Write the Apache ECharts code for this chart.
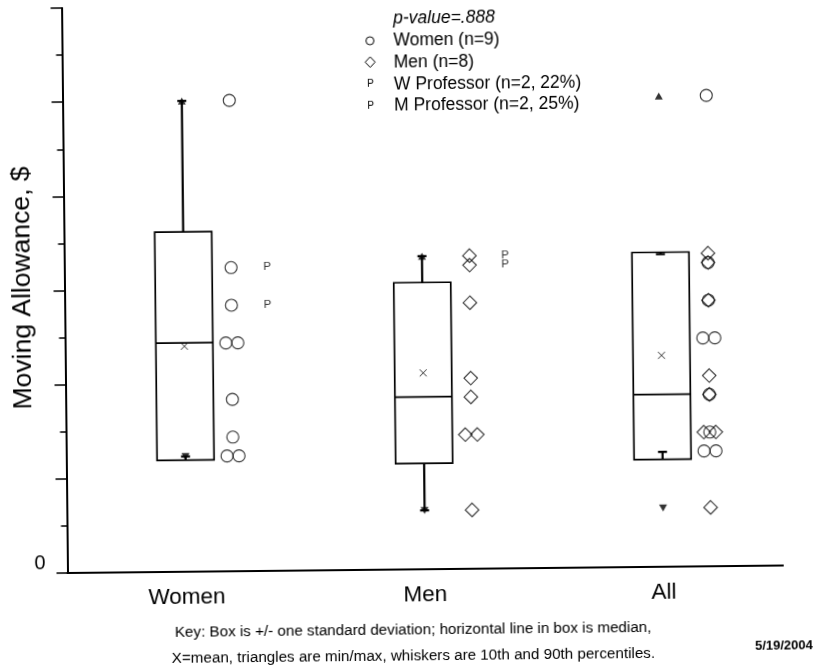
<!DOCTYPE html>
<html><head><meta charset="utf-8">
<script src="https://cdn.jsdelivr.net/npm/echarts@6/dist/echarts.min.js"></script>
<style>
html,body{margin:0;padding:0;background:#fff;overflow:hidden;}
#wrap{position:absolute;left:0;top:0;width:815px;height:669px;transform-origin:67.5px 573px;transform:rotate(-0.6deg);}
#chart{width:815px;height:669px;}
</style></head><body>
<div id="wrap"><div id="chart"></div></div>
<script>
// ---- data ----
const categories = ['Women', 'Men', 'All'];
const womenValues = [10000, 6450, 5650, 4850, 4850, 3650, 2850, 2450, 2450];
const menValues = [6650, 6450, 5650, 4050, 3650, 2850, 2850, 1250];
const wProfessorValues = [6450, 5650];
const mProfessorValues = [6650, 6450];
const boxHigh = [7220, 6090, 6680];   // mean + 1 SD
const boxLow = [2370, 2250, 2280];    // mean - 1 SD
const medians = [4860, 3660, 3660];
const means = [4790, 4170, 4490];
const p90 = [10000, 6650, 6640];
const p10 = [2450, 1250, 2440];
const maxValues = [10000, 6650, 10000];
const minValues = [2450, 1250, 1250];
const yTickLabels = ['0'];
const yTitle = 'Moving Allowance, $';
const legendTitle = 'p-value=.888';
const seriesNames = ['Women (n=9)', 'Men (n=8)', 'W Professor (n=2, 22%)', 'M Professor (n=2, 25%)'];
const keyLines = ['Key: Box is +/- one standard deviation; horizontal line in box is median,',
                  'X=mean, triangles are min/max, whiskers are 10th and 90th percentiles.'];
const dateText = '5/19/2004';

// ---- styling ----
const FONT = '"Liberation Sans", Arial, sans-serif';
const POINT_SHIFT = 47.5;
const PAIR_GAP = 12;
const BOX_W = 57;

function jittered(values, catIdx) {
  const counts = {}, seen = {};
  values.forEach(v => counts[v] = (counts[v] || 0) + 1);
  return values.map(v => {
    const k = counts[v];
    const j = (seen[v] = (seen[v] || 0) + 1) - 1;
    return { value: [catIdx, v], symbolOffset: [POINT_SHIFT + (j - (k - 1) / 2) * PAIR_GAP, 0] };
  });
}
const pairs = (arr) => arr.map((v, i) => [i, v]);

const chart = echarts.init(document.getElementById('chart'), null, { renderer: 'canvas' });
const hollow = { color: 'rgba(0,0,0,0)', borderColor: '#000', borderWidth: 1.1 };

const option = {
  animation: false,
  backgroundColor: '#fff',
  grid: { left: 67.5, top: 8, width: 715.5, height: 565, containLabel: false, outerBoundsMode: 'none' },
  xAxis: {
    type: 'category', data: categories, boundaryGap: true,
    axisLine: { lineStyle: { color: '#000', width: 2 } },
    axisTick: { alignWithLabel: true, interval: 0, length: 10, lineStyle: { color: '#000', width: 1.5 } },
    axisLabel: { interval: 0, fontSize: 22.5, color: '#000', fontFamily: FONT, margin: 14 },
    splitLine: { show: false }
  },
  yAxis: {
    type: 'value', min: 0, max: 12000, interval: 2000,
    axisLine: { show: true, lineStyle: { color: '#000', width: 2 } },
    axisTick: { show: true, length: 11, lineStyle: { color: '#000', width: 1.5 } },
    minorTick: { show: true, splitNumber: 2, length: 6, lineStyle: { color: '#000', width: 1.5 } },
    splitLine: { show: false },
    axisLabel: { formatter: v => v === 0 ? yTickLabels[0] : '', fontSize: 20, color: '#000', fontFamily: FONT, margin: 22, verticalAlign: 'bottom' }
  },
  series: [
    {
      type: 'custom', silent: true,
      data: categories.map((c, i) => [i, boxLow[i], boxHigh[i], medians[i], p10[i], p90[i]]),
      encode: { x: 0, y: [1, 2, 3, 4, 5] },
      renderItem: function (params, api) {
        const i = api.value(0);
        const c = api.coord([i, api.value(1)]);
        const cx = c[0], yLow = c[1];
        const yHigh = api.coord([i, api.value(2)])[1];
        const yMed = api.coord([i, api.value(3)])[1];
        const y10 = api.coord([i, api.value(4)])[1];
        const y90 = api.coord([i, api.value(5)])[1];
        const hw = BOX_W / 2;
        const bs = { stroke: '#000', fill: 'none', lineWidth: 1.7 };
        const ws = { stroke: '#000', fill: 'none', lineWidth: 2.2 };
        return {
          type: 'group', children: [
            { type: 'rect', shape: { x: cx - hw, y: yHigh, width: 2 * hw, height: yLow - yHigh }, style: bs },
            { type: 'line', shape: { x1: cx - hw, y1: yMed, x2: cx + hw, y2: yMed }, style: bs },
            { type: 'line', shape: { x1: cx, y1: yHigh, x2: cx, y2: y90 }, style: ws },
            { type: 'line', shape: { x1: cx, y1: yLow, x2: cx, y2: y10 }, style: ws },
            { type: 'line', shape: { x1: cx - 4.5, y1: y90, x2: cx + 4.5, y2: y90 }, style: ws },
            { type: 'line', shape: { x1: cx - 4.5, y1: y10, x2: cx + 4.5, y2: y10 }, style: ws }
          ]
        };
      }
    },
    {
      name: 'mean', type: 'scatter', silent: true, data: pairs(means),
      symbol: 'path://M0,0L10,10M0,10L10,0', symbolSize: 7,
      itemStyle: { color: 'none', borderColor: '#000', borderWidth: 1 }
    },
    {
      name: 'max', type: 'scatter', silent: true, data: pairs(maxValues),
      symbol: 'triangle', symbolSize: [8, 7], itemStyle: { color: '#000' }
    },
    {
      name: 'min', type: 'scatter', silent: true, data: pairs(minValues),
      symbol: 'triangle', symbolRotate: 180, symbolSize: [8, 7], itemStyle: { color: '#000' }
    },
    {
      name: seriesNames[0], type: 'scatter', silent: true,
      data: jittered(womenValues, 0).concat(jittered(womenValues, 2)),
      symbol: 'circle', symbolSize: 12, itemStyle: hollow
    },
    {
      name: seriesNames[1], type: 'scatter', silent: true,
      data: jittered(menValues, 1).concat(jittered(menValues, 2)),
      symbol: 'diamond', symbolSize: 13.5, itemStyle: hollow
    },
    {
      name: seriesNames[2], type: 'scatter', silent: true,
      data: wProfessorValues.map(v => [0, v]),
      symbol: 'circle', symbolSize: 1, itemStyle: { color: 'rgba(0,0,0,0)' },
      label: { show: true, position: 'inside', formatter: 'P', offset: [83.5, 0], fontSize: 11.5, color: '#000', fontFamily: FONT }
    },
    {
      name: seriesNames[3], type: 'scatter', silent: true,
      data: mProfessorValues.map(v => [1, v]),
      symbol: 'circle', symbolSize: 1, itemStyle: { color: 'rgba(0,0,0,0)' },
      label: { show: true, position: 'inside', formatter: 'P', offset: [83, 0], fontSize: 11.5, color: '#000', fontFamily: FONT }
    }
  ],
  graphic: [
    { type: 'text', x: 25.5, y: 287.5, rotation: Math.PI / 2, style: { text: yTitle, font: '26.5px ' + FONT, fill: '#000', verticalAlign: 'middle', align: 'center' } },
    { type: 'text', x: 399, y: 22.5, style: { text: legendTitle, font: 'italic 17.5px ' + FONT, fill: '#000', verticalAlign: 'middle', align: 'left' } },
    { type: 'circle', shape: { cx: 375.5, cy: 44, r: 4 }, style: { fill: 'none', stroke: '#000', lineWidth: 1 } },
    { type: 'polygon', shape: { points: [[375.5, 60], [380.5, 65.3], [375.5, 70.6], [370.5, 65.3]] }, style: { fill: 'none', stroke: '#000', lineWidth: 1 } },
    { type: 'text', x: 375.5, y: 87.3, style: { text: 'P', font: '10px ' + FONT, fill: '#000', verticalAlign: 'middle', align: 'center' } },
    { type: 'text', x: 375.5, y: 109, style: { text: 'P', font: '10px ' + FONT, fill: '#000', verticalAlign: 'middle', align: 'center' } },
    { type: 'text', x: 399, y: 44.5, style: { text: seriesNames[0], font: '17.5px ' + FONT, fill: '#000', verticalAlign: 'middle', align: 'left' } },
    { type: 'text', x: 399, y: 66, style: { text: seriesNames[1], font: '17.5px ' + FONT, fill: '#000', verticalAlign: 'middle', align: 'left' } },
    { type: 'text', x: 399, y: 87.7, style: { text: seriesNames[2], font: '17.5px ' + FONT, fill: '#000', verticalAlign: 'middle', align: 'left' } },
    { type: 'text', x: 399, y: 109.5, style: { text: seriesNames[3], font: '17.5px ' + FONT, fill: '#000', verticalAlign: 'middle', align: 'left' } },
    { type: 'text', x: 412.5, y: 634, style: { text: keyLines[0], font: '15.2px ' + FONT, fill: '#000', verticalAlign: 'middle', align: 'center' } },
    { type: 'text', x: 412.5, y: 660, style: { text: keyLines[1], font: '15.2px ' + FONT, fill: '#000', verticalAlign: 'middle', align: 'center' } },
    { type: 'text', x: 812, y: 653.5, style: { text: dateText, font: 'bold 13px ' + FONT, fill: '#000', verticalAlign: 'middle', align: 'right' } }
  ]
};
chart.setOption(option);
</script>
</body></html>
